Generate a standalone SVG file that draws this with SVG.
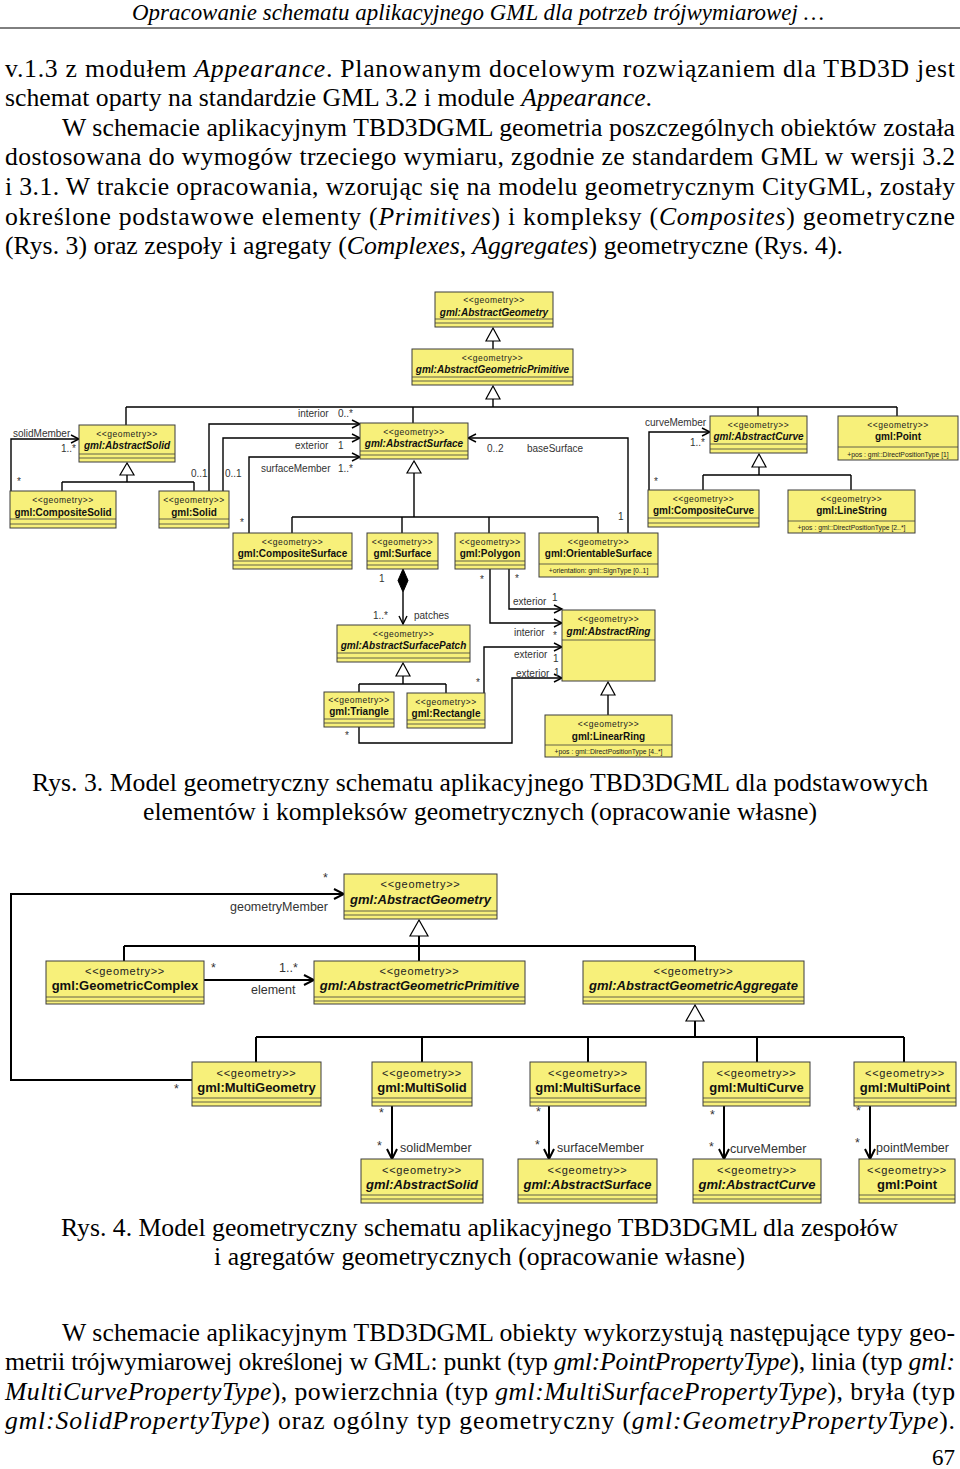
<svg xmlns="http://www.w3.org/2000/svg" width="960" height="1469" viewBox="0 0 960 1469">
<style>
.bg{fill:#fff}
.box{fill:#F7F07A;stroke:#3c3c3c;stroke-width:1}
.sep{stroke:#3c3c3c;stroke-width:0.8;fill:none}
.st3{font-family:"Liberation Sans",Arial,sans-serif;font-size:8.5px;letter-spacing:0.5px;text-anchor:middle;fill:#222}
.nm3{font-family:"Liberation Sans",Arial,sans-serif;font-size:10px;font-weight:bold;text-anchor:middle;fill:#111}
.at3{font-family:"Liberation Sans",Arial,sans-serif;font-size:6.8px;text-anchor:middle;fill:#222}
.lb3{font-family:"Liberation Sans",Arial,sans-serif;font-size:10px;fill:#333}
.st4{font-family:"Liberation Sans",Arial,sans-serif;font-size:11px;letter-spacing:0.7px;text-anchor:middle;fill:#222}
.nm4{font-family:"Liberation Sans",Arial,sans-serif;font-size:13px;font-weight:bold;text-anchor:middle;fill:#111}
.lb4{font-family:"Liberation Sans",Arial,sans-serif;font-size:12.5px;fill:#333}
.it{font-style:italic}
.c3{stroke:#000;stroke-width:1.4;fill:none}
.c4{stroke:#000;stroke-width:2;fill:none}
.gen{fill:#fff;stroke:#000;stroke-width:1.2}
.dia{fill:#000;stroke:#000;stroke-width:1}
.b{font-family:"Liberation Serif","Times New Roman",serif;font-size:25.7px;fill:#000}
.hd{font-family:"Liberation Serif","Times New Roman",serif;font-size:22.9px;font-style:italic;fill:#000}
</style>
<defs>
<marker id="oa3" markerUnits="userSpaceOnUse" markerWidth="12" markerHeight="12" refX="10" refY="6" orient="auto"><path d="M2,2 L10,6 L2,10" fill="none" stroke="#000" stroke-width="1.4"/></marker>
<marker id="oa4" markerUnits="userSpaceOnUse" markerWidth="14" markerHeight="14" refX="12" refY="7" orient="auto"><path d="M2,2 L12,7 L2,12" fill="none" stroke="#000" stroke-width="2"/></marker>
</defs>
<rect class="bg" x="0" y="0" width="960" height="1469"/>

<!-- page text -->
<g id="page-text">
<text class="hd" x="478" y="20" text-anchor="middle" textLength="692" lengthAdjust="spacing">Opracowanie schematu aplikacyjnego GML dla potrzeb trójwymiarowej …</text>
<line x1="0" y1="28" x2="960" y2="28" stroke="#000" stroke-width="1"/>
<text class="b" x="5" y="77" textLength="950" lengthAdjust="spacing">v.1.3 z modułem <tspan class="it">Appearance</tspan>. Planowanym docelowym rozwiązaniem dla TBD3D jest</text>
<text class="b" x="5" y="106" textLength="647" lengthAdjust="spacing">schemat oparty na standardzie GML 3.2 i module <tspan class="it">Appearance</tspan>.</text>
<text class="b" x="62" y="136" textLength="893" lengthAdjust="spacing">W schemacie aplikacyjnym TBD3DGML geometria poszczególnych obiektów została</text>
<text class="b" x="5" y="165" textLength="950" lengthAdjust="spacing">dostosowana do wymogów trzeciego wymiaru, zgodnie ze standardem GML w wersji 3.2</text>
<text class="b" x="5" y="195" textLength="950" lengthAdjust="spacing">i 3.1. W trakcie opracowania, wzorując się na modelu geometrycznym CityGML, zostały</text>
<text class="b" x="5" y="225" textLength="950" lengthAdjust="spacing">określone podstawowe elementy (<tspan class="it">Primitives</tspan>) i kompleksy (<tspan class="it">Composites</tspan>) geometryczne</text>
<text class="b" x="5" y="254" textLength="838" lengthAdjust="spacing">(Rys. 3) oraz zespoły i agregaty (<tspan class="it">Complexes, Aggregates</tspan>) geometryczne (Rys. 4).</text>

<text class="b" x="480" y="791" text-anchor="middle" textLength="896" lengthAdjust="spacing">Rys. 3. Model geometryczny schematu aplikacyjnego TBD3DGML dla podstawowych</text>
<text class="b" x="480" y="820" text-anchor="middle" textLength="674" lengthAdjust="spacing">elementów i kompleksów geometrycznych (opracowanie własne)</text>
<text class="b" x="479.5" y="1236" text-anchor="middle" textLength="837" lengthAdjust="spacing">Rys. 4. Model geometryczny schematu aplikacyjnego TBD3DGML dla zespołów</text>
<text class="b" x="479.5" y="1265" text-anchor="middle" textLength="531" lengthAdjust="spacing">i agregatów geometrycznych (opracowanie własne)</text>

<text class="b" x="62" y="1341" textLength="893" lengthAdjust="spacing">W schemacie aplikacyjnym TBD3DGML obiekty wykorzystują następujące typy geo-</text>
<text class="b" x="5" y="1370" textLength="950" lengthAdjust="spacing">metrii trójwymiarowej określonej w GML: punkt (typ <tspan class="it">gml:PointPropertyType</tspan>), linia (typ <tspan class="it">gml:</tspan></text>
<text class="b" x="5" y="1400" textLength="950" lengthAdjust="spacing"><tspan class="it">MultiCurvePropertyType</tspan>), powierzchnia (typ <tspan class="it">gml:MultiSurfacePropertyType</tspan>), bryła (typ</text>
<text class="b" x="5" y="1429" textLength="950" lengthAdjust="spacing"><tspan class="it">gml:SolidPropertyType</tspan>) oraz ogólny typ geometryczny (<tspan class="it">gml:GeometryPropertyType</tspan>).</text>
<text class="b" x="955" y="1465" text-anchor="end" style="font-size:23px">67</text>
</g>

<!-- ===== Rys. 3 connectors ===== -->
<g id="connectors-rys3">
<line class="c3" x1="493" y1="341" x2="493" y2="349"/>
<polygon class="gen" points="493,328 486,341 500,341"/>
<polygon class="gen" points="493,386 486,399 500,399"/>
<path class="c3" d="M493,399 V407 M126,407 H897 M126,407 V425 M413,407 V423 M758,407 V416 M897,407 V416"/>
<polygon class="gen" points="127,463 120,475 134,475"/>
<path class="c3" d="M127,475 V482 M62,482 H194 M62,482 V491 M194,482 V491"/>
<path class="c3" d="M11,491 V439 H79" marker-end="url(#oa3)"/>
<path class="c3" d="M209,491 V424 H360" marker-end="url(#oa3)"/>
<path class="c3" d="M223,491 V438 H360" marker-end="url(#oa3)"/>
<path class="c3" d="M249,533 V457 H360" marker-end="url(#oa3)"/>
<polygon class="gen" points="414,461 407,473 421,473"/>
<path class="c3" d="M414,473 V517 M292,517 H598 M292,517 V533 M402,517 V533 M489,517 V533 M598,517 V533"/>
<path class="c3" d="M628,533 V438 H468" marker-end="url(#oa3)"/>
<path class="c3" d="M649,490 V432 H710" marker-end="url(#oa3)"/>
<polygon class="gen" points="759,454 752,467 766,467"/>
<path class="c3" d="M759,467 V475 M703,475 H851 M703,475 V490 M851,475 V490"/>
<polygon class="dia" points="403,569 408,580.5 403,592 398,580.5"/>
<path class="c3" d="M403,592 V624" marker-end="url(#oa3)"/>
<polygon class="gen" points="403,663 396,676 410,676"/>
<path class="c3" d="M403,676 V684 M359,684 H446 M359,684 V692 M446,684 V693"/>
<path class="c3" d="M509,569 V609 H562" marker-end="url(#oa3)"/>
<path class="c3" d="M490,569 V623 H562" marker-end="url(#oa3)"/>
<path class="c3" d="M484,693 V647 H562" marker-end="url(#oa3)"/>
<path class="c3" d="M359,727 V743 H512 V678 H562" marker-end="url(#oa3)"/>
<polygon class="gen" points="608,682 601,695 615,695"/>
<line class="c3" x1="608" y1="695" x2="608" y2="715"/>
</g>

<g id="labels-rys3">
<text class="lb3" x="13" y="437">solidMember</text>
<text class="lb3" x="61" y="452">1..*</text>
<text class="lb3" x="17" y="485">*</text>
<text class="lb3" x="191" y="477">0..1</text>
<text class="lb3" x="225" y="477">0..1</text>
<text class="lb3" x="298" y="417">interior</text>
<text class="lb3" x="338" y="417">0..*</text>
<text class="lb3" x="295" y="449">exterior</text>
<text class="lb3" x="338" y="449">1</text>
<text class="lb3" x="261" y="472">surfaceMember</text>
<text class="lb3" x="338" y="472">1..*</text>
<text class="lb3" x="240" y="526">*</text>
<text class="lb3" x="487" y="452">0..2</text>
<text class="lb3" x="527" y="452">baseSurface</text>
<text class="lb3" x="618" y="520">1</text>
<text class="lb3" x="645" y="426">curveMember</text>
<text class="lb3" x="690" y="446">1..*</text>
<text class="lb3" x="654" y="485">*</text>
<text class="lb3" x="379" y="582">1</text>
<text class="lb3" x="373" y="619">1..*</text>
<text class="lb3" x="414" y="619">patches</text>
<text class="lb3" x="480" y="583">*</text>
<text class="lb3" x="515" y="582">*</text>
<text class="lb3" x="513" y="605">exterior</text>
<text class="lb3" x="552" y="601">1</text>
<text class="lb3" x="514" y="636">interior</text>
<text class="lb3" x="553" y="639">*</text>
<text class="lb3" x="514" y="658">exterior</text>
<text class="lb3" x="553" y="662">1</text>
<text class="lb3" x="516" y="677">exterior</text>
<text class="lb3" x="554" y="676">1</text>
<text class="lb3" x="476" y="686">*</text>
<text class="lb3" x="345" y="739">*</text>
</g>

<!-- ===== Rys. 3 nodes ===== -->
<g id="r3-AbstractGeometry">
<rect class="box" x="435" y="292" width="118" height="35"/>
<path class="sep" d="M435,319 H553 M435,323 H553"/>
<text class="st3" x="494" y="303">&lt;&lt;geometry&gt;&gt;</text>
<text class="nm3 it" x="494" y="316">gml:AbstractGeometry</text>
</g>
<g id="r3-AbstractGeometricPrimitive">
<rect class="box" x="412" y="349" width="161" height="36"/>
<path class="sep" d="M412,377 H573 M412,381 H573"/>
<text class="st3" x="492.5" y="360.5">&lt;&lt;geometry&gt;&gt;</text>
<text class="nm3 it" x="492.5" y="373">gml:AbstractGeometricPrimitive</text>
</g>
<g id="r3-AbstractSolid">
<rect class="box" x="79" y="425" width="96" height="37"/>
<path class="sep" d="M79,454 H175 M79,458 H175"/>
<text class="st3" x="127" y="436.5">&lt;&lt;geometry&gt;&gt;</text>
<text class="nm3 it" x="127" y="449">gml:AbstractSolid</text>
</g>
<g id="r3-CompositeSolid">
<rect class="box" x="10" y="491" width="106" height="37"/>
<path class="sep" d="M10,519 H116 M10,524 H116"/>
<text class="st3" x="63" y="503">&lt;&lt;geometry&gt;&gt;</text>
<text class="nm3" x="63" y="515.5">gml:CompositeSolid</text>
</g>
<g id="r3-Solid">
<rect class="box" x="159" y="491" width="70" height="37"/>
<path class="sep" d="M159,519 H229 M159,524 H229"/>
<text class="st3" x="194" y="503">&lt;&lt;geometry&gt;&gt;</text>
<text class="nm3" x="194" y="515.5">gml:Solid</text>
</g>
<g id="r3-AbstractSurface">
<rect class="box" x="360" y="423" width="108" height="36"/>
<path class="sep" d="M360,451 H468 M360,455 H468"/>
<text class="st3" x="414" y="434.5">&lt;&lt;geometry&gt;&gt;</text>
<text class="nm3 it" x="414" y="447">gml:AbstractSurface</text>
</g>
<g id="r3-CompositeSurface">
<rect class="box" x="233" y="533" width="119" height="36"/>
<path class="sep" d="M233,561 H352 M233,565 H352"/>
<text class="st3" x="292.5" y="544.5">&lt;&lt;geometry&gt;&gt;</text>
<text class="nm3" x="292.5" y="557">gml:CompositeSurface</text>
</g>
<g id="r3-Surface">
<rect class="box" x="367" y="533" width="71" height="36"/>
<path class="sep" d="M367,561 H438 M367,565 H438"/>
<text class="st3" x="402.5" y="544.5">&lt;&lt;geometry&gt;&gt;</text>
<text class="nm3" x="402.5" y="557">gml:Surface</text>
</g>
<g id="r3-Polygon">
<rect class="box" x="455" y="533" width="70" height="36"/>
<path class="sep" d="M455,561 H525 M455,565 H525"/>
<text class="st3" x="490" y="544.5">&lt;&lt;geometry&gt;&gt;</text>
<text class="nm3" x="490" y="557">gml:Polygon</text>
</g>
<g id="r3-OrientableSurface">
<rect class="box" x="539" y="533" width="119" height="44"/>
<path class="sep" d="M539,564 H658"/>
<text class="st3" x="598.5" y="544.5">&lt;&lt;geometry&gt;&gt;</text>
<text class="nm3" x="598.5" y="557">gml:OrientableSurface</text>
<text class="at3" x="598.5" y="573">+orientation: gml::SignType [0..1]</text>
</g>
<g id="r3-AbstractCurve">
<rect class="box" x="710" y="416" width="97" height="37"/>
<path class="sep" d="M710,444 H807 M710,449 H807"/>
<text class="st3" x="758.5" y="427.5">&lt;&lt;geometry&gt;&gt;</text>
<text class="nm3 it" x="758.5" y="440">gml:AbstractCurve</text>
</g>
<g id="r3-Point">
<rect class="box" x="838" y="416" width="120" height="44"/>
<path class="sep" d="M838,447 H958"/>
<text class="st3" x="898" y="427.5">&lt;&lt;geometry&gt;&gt;</text>
<text class="nm3" x="898" y="440">gml:Point</text>
<text class="at3" x="898" y="456.5">+pos : gml::DirectPositionType [1]</text>
</g>
<g id="r3-CompositeCurve">
<rect class="box" x="648" y="490" width="111" height="37"/>
<path class="sep" d="M648,518 H759 M648,523 H759"/>
<text class="st3" x="703.5" y="501.5">&lt;&lt;geometry&gt;&gt;</text>
<text class="nm3" x="703.5" y="514">gml:CompositeCurve</text>
</g>
<g id="r3-LineString">
<rect class="box" x="788" y="490" width="127" height="43"/>
<path class="sep" d="M788,521 H915"/>
<text class="st3" x="851.5" y="501.5">&lt;&lt;geometry&gt;&gt;</text>
<text class="nm3" x="851.5" y="514">gml:LineString</text>
<text class="at3" x="851.5" y="529.5">+pos : gml::DirectPositionType [2..*]</text>
</g>
<g id="r3-AbstractSurfacePatch">
<rect class="box" x="337" y="625" width="133" height="37"/>
<path class="sep" d="M337,653 H470 M337,658 H470"/>
<text class="st3" x="403.5" y="636.5">&lt;&lt;geometry&gt;&gt;</text>
<text class="nm3 it" x="403.5" y="649">gml:AbstractSurfacePatch</text>
</g>
<g id="r3-Triangle">
<rect class="box" x="324" y="692" width="70" height="35"/>
<path class="sep" d="M324,719 H394 M324,723 H394"/>
<text class="st3" x="359" y="703">&lt;&lt;geometry&gt;&gt;</text>
<text class="nm3" x="359" y="715">gml:Triangle</text>
</g>
<g id="r3-Rectangle">
<rect class="box" x="407" y="693" width="78" height="35"/>
<path class="sep" d="M407,720 H485 M407,724 H485"/>
<text class="st3" x="446" y="705">&lt;&lt;geometry&gt;&gt;</text>
<text class="nm3" x="446" y="717">gml:Rectangle</text>
</g>
<g id="r3-AbstractRing">
<rect class="box" x="562" y="610" width="93" height="71"/>
<path class="sep" d="M562,640 H655"/>
<text class="st3" x="608.5" y="622">&lt;&lt;geometry&gt;&gt;</text>
<text class="nm3 it" x="608.5" y="634.5">gml:AbstractRing</text>
</g>
<g id="r3-LinearRing">
<rect class="box" x="545" y="715" width="127" height="42"/>
<path class="sep" d="M545,745 H672"/>
<text class="st3" x="608.5" y="727">&lt;&lt;geometry&gt;&gt;</text>
<text class="nm3" x="608.5" y="739.5">gml:LinearRing</text>
<text class="at3" x="608.5" y="754">+pos : gml::DirectPositionType [4..*]</text>
</g>

<!-- ===== Rys. 4 connectors ===== -->
<g id="connectors-rys4">
<path class="c4" d="M192,1080 H11 V894 H344" marker-end="url(#oa4)"/>
<polygon class="gen" points="419,920 410,936 428,936"/>
<path class="c4" d="M419,936 V961 M124,946 H695 M124,946 V961 M695,946 V961"/>
<path class="c4" d="M204,980 H314" marker-end="url(#oa4)"/>
<polygon class="gen" points="695,1005 686,1021 704,1021"/>
<path class="c4" d="M695,1021 V1037 M256,1037 H904 M256,1037 V1062 M422,1037 V1062 M588,1037 V1062 M757,1037 V1062 M904,1037 V1062"/>
<path class="c4" d="M392,1106 V1159" marker-end="url(#oa4)"/>
<path class="c4" d="M549,1106 V1159" marker-end="url(#oa4)"/>
<path class="c4" d="M724,1106 V1159" marker-end="url(#oa4)"/>
<path class="c4" d="M870,1106 V1159" marker-end="url(#oa4)"/>
</g>

<g id="labels-rys4">
<text class="lb4" x="323" y="882">*</text>
<text class="lb4" x="230" y="911">geometryMember</text>
<text class="lb4" x="211" y="972">*</text>
<text class="lb4" x="279" y="972">1..*</text>
<text class="lb4" x="251" y="994">element</text>
<text class="lb4" x="174" y="1093">*</text>
<text class="lb4" x="379" y="1117">*</text>
<text class="lb4" x="377" y="1150">*</text>
<text class="lb4" x="400" y="1152">solidMember</text>
<text class="lb4" x="536" y="1116">*</text>
<text class="lb4" x="535" y="1149">*</text>
<text class="lb4" x="557" y="1152">surfaceMember</text>
<text class="lb4" x="710" y="1119">*</text>
<text class="lb4" x="709" y="1151">*</text>
<text class="lb4" x="730" y="1153">curveMember</text>
<text class="lb4" x="856" y="1115">*</text>
<text class="lb4" x="855" y="1147">*</text>
<text class="lb4" x="876" y="1152">pointMember</text>
</g>

<!-- ===== Rys. 4 nodes ===== -->
<g id="r4-AbstractGeometry">
<rect class="box" x="344" y="874" width="153" height="45"/>
<path class="sep" d="M344,911 H497 M344,915 H497"/>
<text class="st4" x="420.5" y="888">&lt;&lt;geometry&gt;&gt;</text>
<text class="nm4 it" x="420.5" y="904">gml:AbstractGeometry</text>
</g>
<g id="r4-GeometricComplex">
<rect class="box" x="46" y="961" width="158" height="43"/>
<path class="sep" d="M46,997 H204 M46,1001 H204"/>
<text class="st4" x="125" y="975">&lt;&lt;geometry&gt;&gt;</text>
<text class="nm4" x="125" y="990">gml:GeometricComplex</text>
</g>
<g id="r4-AbstractGeometricPrimitive">
<rect class="box" x="314" y="961" width="211" height="43"/>
<path class="sep" d="M314,997 H525 M314,1001 H525"/>
<text class="st4" x="419.5" y="975">&lt;&lt;geometry&gt;&gt;</text>
<text class="nm4 it" x="419.5" y="990">gml:AbstractGeometricPrimitive</text>
</g>
<g id="r4-AbstractGeometricAggregate">
<rect class="box" x="583" y="961" width="221" height="43"/>
<path class="sep" d="M583,997 H804 M583,1001 H804"/>
<text class="st4" x="693.5" y="975">&lt;&lt;geometry&gt;&gt;</text>
<text class="nm4 it" x="693.5" y="990">gml:AbstractGeometricAggregate</text>
</g>
<g id="r4-MultiGeometry">
<rect class="box" x="192" y="1062" width="129" height="44"/>
<path class="sep" d="M192,1098 H321 M192,1102 H321"/>
<text class="st4" x="256.5" y="1077">&lt;&lt;geometry&gt;&gt;</text>
<text class="nm4" x="256.5" y="1092">gml:MultiGeometry</text>
</g>
<g id="r4-MultiSolid">
<rect class="box" x="372" y="1062" width="100" height="44"/>
<path class="sep" d="M372,1098 H472 M372,1102 H472"/>
<text class="st4" x="422" y="1077">&lt;&lt;geometry&gt;&gt;</text>
<text class="nm4" x="422" y="1092">gml:MultiSolid</text>
</g>
<g id="r4-MultiSurface">
<rect class="box" x="530" y="1062" width="116" height="44"/>
<path class="sep" d="M530,1098 H646 M530,1102 H646"/>
<text class="st4" x="588" y="1077">&lt;&lt;geometry&gt;&gt;</text>
<text class="nm4" x="588" y="1092">gml:MultiSurface</text>
</g>
<g id="r4-MultiCurve">
<rect class="box" x="703" y="1062" width="107" height="44"/>
<path class="sep" d="M703,1098 H810 M703,1102 H810"/>
<text class="st4" x="756.5" y="1077">&lt;&lt;geometry&gt;&gt;</text>
<text class="nm4" x="756.5" y="1092">gml:MultiCurve</text>
</g>
<g id="r4-MultiPoint">
<rect class="box" x="854" y="1062" width="102" height="44"/>
<path class="sep" d="M854,1098 H956 M854,1102 H956"/>
<text class="st4" x="905" y="1077">&lt;&lt;geometry&gt;&gt;</text>
<text class="nm4" x="905" y="1092">gml:MultiPoint</text>
</g>
<g id="r4-AbstractSolid">
<rect class="box" x="361" y="1159" width="122" height="44"/>
<path class="sep" d="M361,1195 H483 M361,1199 H483"/>
<text class="st4" x="422" y="1174">&lt;&lt;geometry&gt;&gt;</text>
<text class="nm4 it" x="422" y="1189">gml:AbstractSolid</text>
</g>
<g id="r4-AbstractSurface">
<rect class="box" x="518" y="1159" width="139" height="44"/>
<path class="sep" d="M518,1195 H657 M518,1199 H657"/>
<text class="st4" x="587.5" y="1174">&lt;&lt;geometry&gt;&gt;</text>
<text class="nm4 it" x="587.5" y="1189">gml:AbstractSurface</text>
</g>
<g id="r4-AbstractCurve">
<rect class="box" x="693" y="1159" width="128" height="44"/>
<path class="sep" d="M693,1195 H821 M693,1199 H821"/>
<text class="st4" x="757" y="1174">&lt;&lt;geometry&gt;&gt;</text>
<text class="nm4 it" x="757" y="1189">gml:AbstractCurve</text>
</g>
<g id="r4-Point">
<rect class="box" x="859" y="1159" width="96" height="44"/>
<path class="sep" d="M859,1195 H955 M859,1199 H955"/>
<text class="st4" x="907" y="1174">&lt;&lt;geometry&gt;&gt;</text>
<text class="nm4" x="907" y="1189">gml:Point</text>
</g>
</svg>
